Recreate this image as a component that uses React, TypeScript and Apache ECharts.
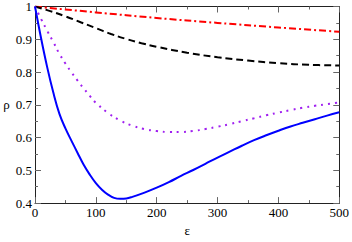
import React, { useEffect, useRef } from "react";
import * as echarts from "echarts";

const xBlue = [0, 10, 20, 30, 40, 50, 60, 70, 80, 90, 100, 110, 120, 130, 140, 150, 160, 180, 200, 220, 240, 260, 280, 300, 320, 340, 360, 380, 400, 420, 440, 460, 480, 500];
const yBlue = [1, 0.903, 0.815, 0.738, 0.673, 0.628, 0.59, 0.553, 0.517, 0.487, 0.461, 0.441, 0.426, 0.416, 0.413, 0.414, 0.419, 0.432, 0.447, 0.464, 0.483, 0.501, 0.52, 0.539, 0.557, 0.575, 0.592, 0.607, 0.621, 0.634, 0.645, 0.656, 0.667, 0.677];

const xPurple = [0, 10, 20, 30, 40, 50, 60, 70, 80, 90, 100, 120, 140, 160, 180, 200, 220, 240, 260, 280, 300, 320, 340, 360, 380, 400, 420, 440, 460, 480, 500];
const yPurple = [1, 0.962, 0.926, 0.892, 0.856, 0.826, 0.799, 0.774, 0.75, 0.727, 0.706, 0.675, 0.652, 0.636, 0.626, 0.62, 0.617, 0.617, 0.62, 0.626, 0.633, 0.641, 0.65, 0.659, 0.668, 0.676, 0.684, 0.691, 0.697, 0.702, 0.707];

const xBlack = [0, 25, 50, 75, 100, 125, 150, 175, 200, 250, 300, 350, 400, 450, 500];
const yBlack = [1, 0.986, 0.97, 0.952, 0.934, 0.916, 0.901, 0.888, 0.877, 0.859, 0.845, 0.835, 0.827, 0.822, 0.82];

const xRed = [0, 100, 200, 300, 400, 500];
const yRed = [1, 0.982, 0.965, 0.95, 0.936, 0.923];

const pairs = (xs: number[], ys: number[]) => xs.map((x, i) => [x, ys[i]]);

const FONT = "Times New Roman";

export default function App() {
  const ref = useRef<HTMLDivElement>(null);
  useEffect(() => {
    const chart = echarts.init(ref.current!, null, { renderer: "svg" });
    const tickCommon = {
      axisLine: { show: true, onZero: false, lineStyle: { color: "#222", width: 1 } },
      axisTick: { show: true, inside: true, length: 6, lineStyle: { color: "#666" } },
      minorTick: { show: true, splitNumber: 2, length: 3, lineStyle: { color: "#666" } },
      splitLine: { show: false },
    };
    chart.setOption({
      animation: false,
      textStyle: { fontFamily: FONT },
      grid: { left: 35, right: 10, top: 5, bottom: 23 },
      xAxis: [
        {
          type: "value", min: 0, max: 500, interval: 100, position: "bottom",
          ...tickCommon,
          axisLabel: { margin: 3, color: "#000", fontFamily: FONT, fontSize: 13 },
          name: "ε", nameLocation: "middle", nameGap: 17,
          nameTextStyle: { color: "#000", fontFamily: FONT, fontSize: 13 },
        },
        {
          type: "value", min: 0, max: 500, interval: 100, position: "top",
          ...tickCommon, axisLabel: { show: false },
        },
      ],
      yAxis: [
        {
          type: "value", min: 0.4, max: 1, interval: 0.1, position: "left",
          ...tickCommon,
          axisLabel: {
            margin: 3, color: "#000", fontFamily: FONT, fontSize: 13,
            formatter: (v: number) => String(Math.round(v * 10) / 10),
          },
          name: "ρ", nameLocation: "middle", nameGap: 24, nameRotate: 0,
          nameTextStyle: { color: "#000", fontFamily: FONT, fontSize: 13 },
        },
        {
          type: "value", min: 0.4, max: 1, interval: 0.1, position: "right",
          ...tickCommon, axisLabel: { show: false },
        },
      ],
      series: [
        { type: "line", data: pairs(xRed, yRed), smooth: 0.4, showSymbol: false, lineStyle: { color: "#ff0000", width: 2, type: [7, 3, 2, 3] } },
        { type: "line", data: pairs(xBlack, yBlack), smooth: 0.4, showSymbol: false, lineStyle: { color: "#000000", width: 2, type: [7, 4] } },
        { type: "line", data: pairs(xPurple, yPurple), smooth: 0.4, showSymbol: false, lineStyle: { color: "#a020f0", width: 2, type: [2, 5] } },
        { type: "line", data: pairs(xBlue, yBlue), smooth: 0.4, showSymbol: false, lineStyle: { color: "#0000ff", width: 2 } },
      ],
    });
    return () => chart.dispose();
  }, []);
  return <div ref={ref} style={{ width: 352, height: 242, position: "absolute", left: 0, top: 0 }} />;
}
